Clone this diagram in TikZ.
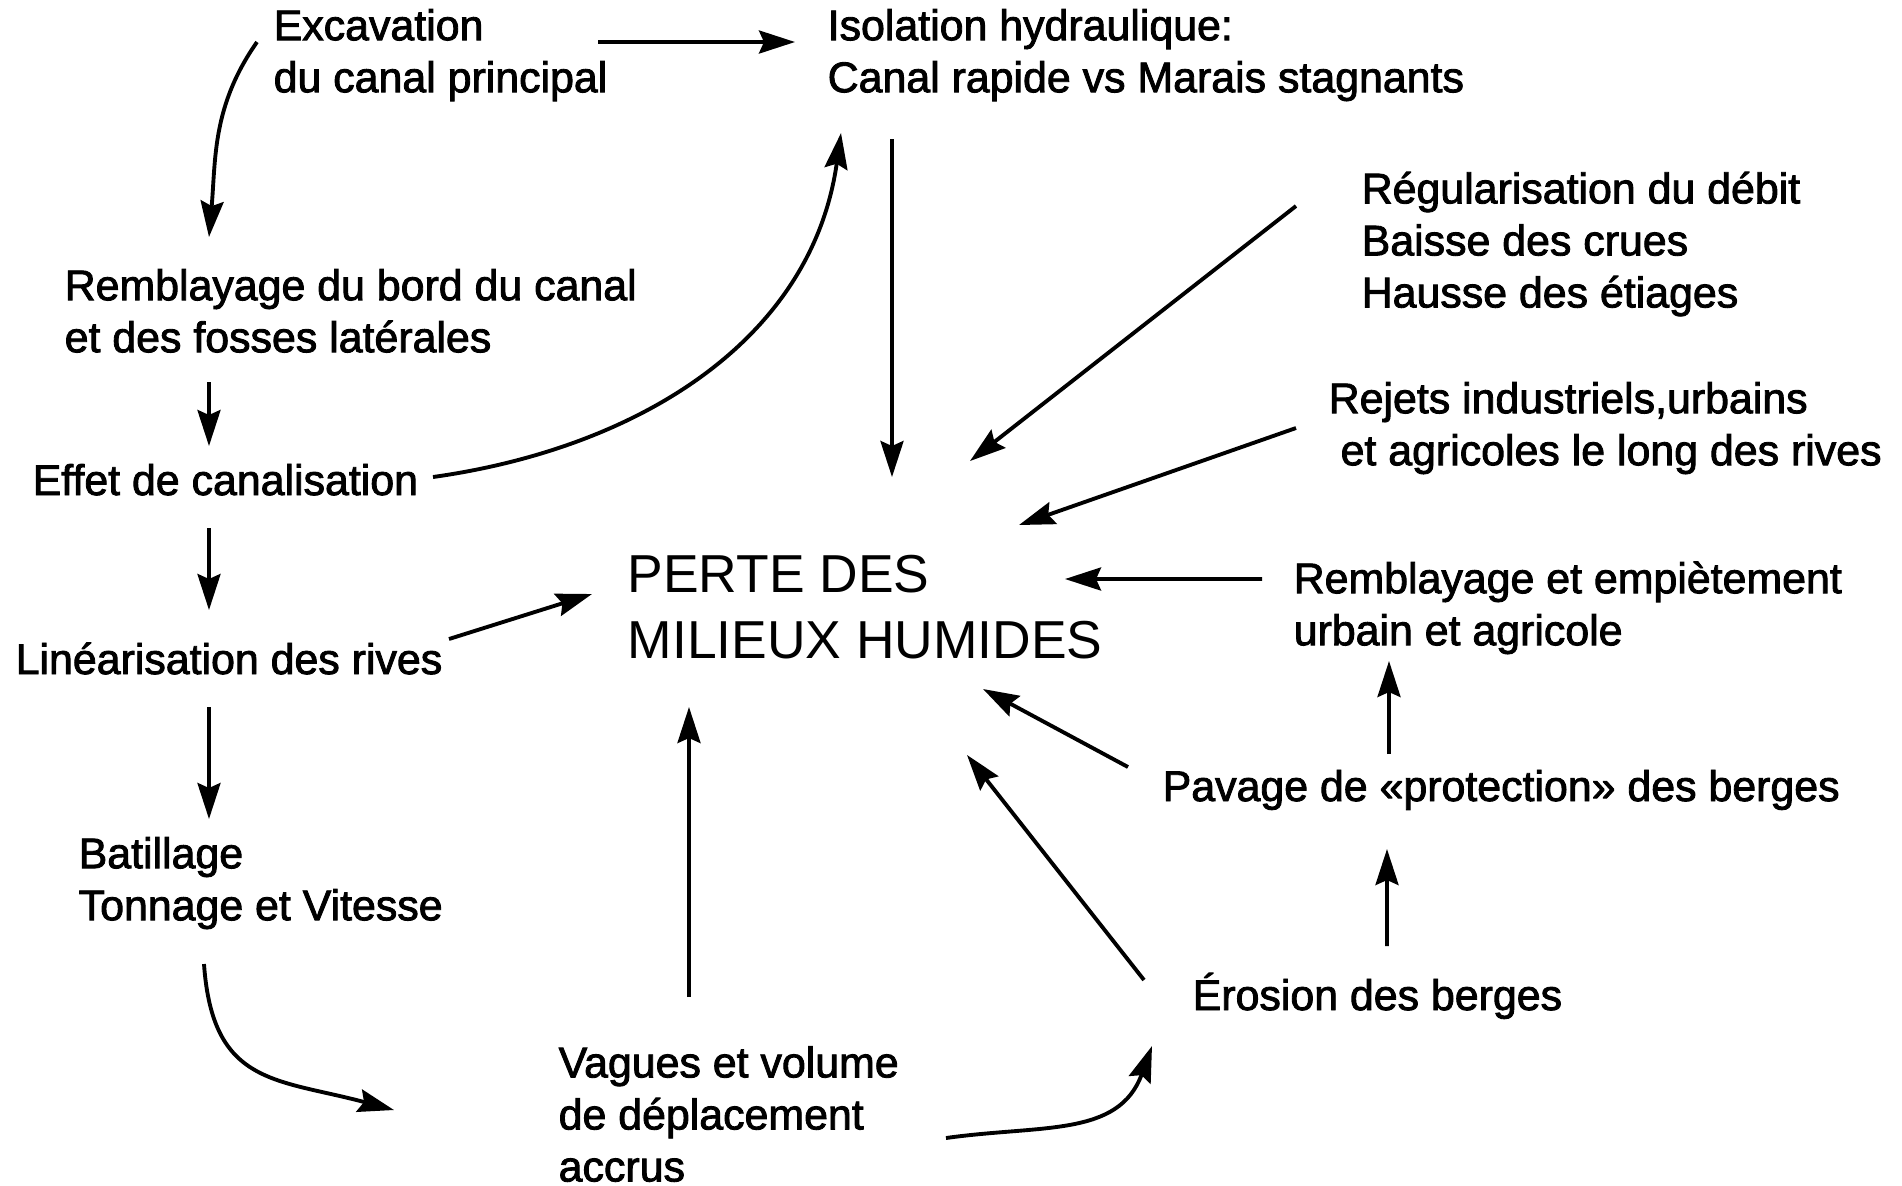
\documentclass[tikz,border=0pt]{standalone}
\usepackage{fontspec}
\setmainfont{Liberation Sans}[BoldFont={Liberation Sans},BoldFeatures={FakeBold=2}]
\usetikzlibrary{arrows.meta}

\begin{document}
\begin{tikzpicture}[
        >={Stealth[length=3.6mm,width=2.3mm,inset=0.5mm]},
        lbl/.style={anchor=base west,inner sep=0pt,align=left,
            font=\fontsize{12.2}{14.8}\selectfont\bfseries},
        big/.style={lbl,font=\fontsize{15.2}{18.8}\selectfont},
        arr/.style={->,line width=1.1pt}
    ]
    \useasboundingbox (0,0) rectangle (19.02,-11.85);

    % causes, left column (nodes sit on their last baseline)
    \node[lbl] (exc) at (2.73,-0.922) {Excavation\\du canal principal};
    \node[lbl] (rem) at (0.64,-3.522) {Remblayage du bord du canal\\et des fosses latérales};
    \node[lbl] (eff) at (0.32,-4.95) {Effet de canalisation};
    \node[lbl] (lin) at (0.15,-6.74) {Linéarisation des rives};
    \node[lbl] (bat) at (0.78,-9.202) {Batillage\\Tonnage et Vitesse};

    % top and centre
    \node[lbl] (iso) at (8.27,-0.922) {Isolation hydraulique:\\Canal rapide vs Marais stagnants};
    \node[big] (perte) at (6.27,-6.583) {PERTE DES\\MILIEUX HUMIDES};
    \node[lbl] (vag) at (5.58,-11.814) {Vagues et volume\\de déplacement\\accrus};

    % right column
    \node[lbl] (reg) at (13.61,-3.074) {Régularisation du débit\\Baisse des crues\\Hausse des étiages};
    \node[lbl] (rej) at (13.28,-4.652) {Rejets industriels,urbains\\~et agricoles le long des rives};
    \node[lbl] (emp) at (12.93,-6.452) {Remblayage et empiètement\\urbain et agricole};
    \node[lbl] (pav) at (11.62,-8.01) {Pavage de «protection» des berges};
    \node[lbl] (ero) at (11.92,-10.10) {Érosion des berges};

    % chain on the left
    \draw[arr] ([shift={(3.25,0.502)}]exc.base west) -- ([shift={(-0.32,0.502)}]iso.base west);
    \draw[arr] ([shift={(-0.16,0.502)}]exc.base west) to[out=235,in=85] ([shift={(1.45,1.152)}]rem.base west);
    \draw[arr] ([shift={(1.45,-0.298)}]rem.base west) -- ([shift={(1.77,0.49)}]eff.base west);
    \draw[arr] ([shift={(1.77,-0.33)}]eff.base west) -- ([shift={(1.94,0.64)}]lin.base west);
    \draw[arr] ([shift={(1.94,-0.33)}]lin.base west) -- ([shift={(1.31,1.012)}]bat.base west);
    \draw[arr] ([shift={(4.01,0.18)}]eff.base west) to[out=8,in=262] ([shift={(0.14,-0.408)}]iso.base west);
    \draw[arr] ([shift={(1.26,-0.438)}]bat.base west) to[out=274,in=165,looseness=1.3] ([shift={(-1.64,0.714)}]vag.base west);
    \draw[arr] ([shift={(3.88,0.434)}]vag.base west) to[out=8,in=250,looseness=1.1] ([shift={(-0.40,-0.36)}]ero.base west);

    % everything into the centre
    \draw[arr] ([shift={(0.65,-0.468)}]iso.base west) -- ([shift={(2.65,1.813)}]perte.base west);
    \draw[arr] ([shift={(-0.65,1.014)}]reg.base west) -- ([shift={(3.43,1.973)}]perte.base west);
    \draw[arr] ([shift={(-0.32,0.372)}]rej.base west) -- ([shift={(3.92,1.333)}]perte.base west);
    \draw[arr] ([shift={(-0.31,0.662)}]emp.base west) -- ([shift={(4.38,0.793)}]perte.base west);
    \draw[arr] ([shift={(4.34,0.35)}]lin.base west) -- ([shift={(-0.35,0.643)}]perte.base west);
    \draw[arr] ([shift={(-0.34,0.34)}]pav.base west) -- ([shift={(3.56,-0.307)}]perte.base west);
    \draw[arr] ([shift={(-0.48,0.30)}]ero.base west) -- ([shift={(3.40,-0.967)}]perte.base west);
    \draw[arr] ([shift={(1.31,1.844)}]vag.base west) -- ([shift={(0.62,-0.487)}]perte.base west);

    % right column upwards
    \draw[arr] ([shift={(2.27,0.47)}]pav.base west) -- ([shift={(0.96,-0.158)}]emp.base west);
    \draw[arr] ([shift={(1.95,0.64)}]ero.base west) -- ([shift={(2.25,-0.48)}]pav.base west);
\end{tikzpicture}
\end{document}
